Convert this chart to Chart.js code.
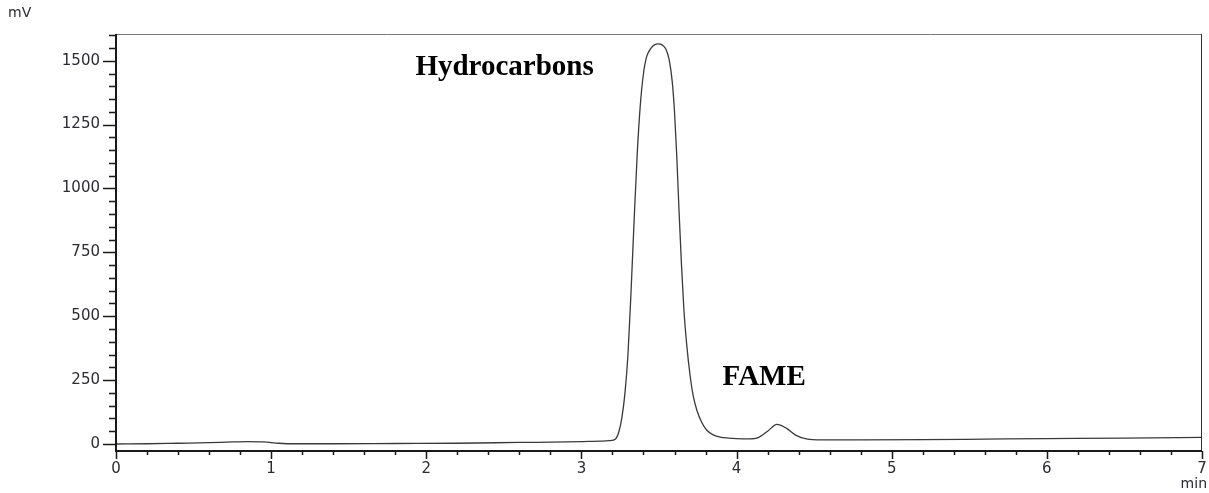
<!DOCTYPE html>
<html>
<head>
<meta charset="utf-8">
<script src="https://cdn.jsdelivr.net/npm/chart.js@4.4.1/dist/chart.umd.min.js"></script>
<style>
  html, body { margin: 0; padding: 0; background: #fff; }
  #wrap { width: 1209px; height: 493px; }
</style>
</head>
<body>
<div id="wrap"><canvas id="chromChart" width="1209" height="493"></canvas></div>
<script>
// retention time (min) and detector signal (mV)
const retentionTime = [
  0, 0.2, 0.4, 0.6, 0.75, 0.85, 0.95, 1.05, 1.15, 1.4, 1.8, 2.2, 2.6, 2.9, 3.05,
  3.12, 3.18, 3.22, 3.24, 3.26, 3.28, 3.30, 3.32, 3.34, 3.36, 3.38, 3.40, 3.42,
  3.45, 3.47, 3.497, 3.52, 3.545, 3.565, 3.585, 3.60, 3.615, 3.63, 3.645, 3.66,
  3.68, 3.70, 3.72, 3.744, 3.775, 3.808, 3.85, 3.894, 3.95, 4.0, 4.08, 4.14, 4.2,
  4.26, 4.32, 4.38, 4.45, 4.55, 4.8, 5.2, 5.6, 6.0, 6.5, 7.0
];
const signalMv = [
  0, 1, 3, 5, 8, 9, 8, 3, 1, 1, 2, 3, 6, 8, 10,
  11, 13, 20, 45, 100, 195, 350, 600, 880, 1140, 1330, 1450, 1515,
  1550, 1562, 1566, 1562, 1545, 1505, 1420, 1300, 1120, 900, 700, 530,
  380, 270, 190, 132, 85, 54, 36, 27, 23, 21, 20, 25, 50,
  77, 62, 35, 20, 16, 16, 17, 19, 21, 23, 26
];

// axis ticks
const xTicks = [0, 1, 2, 3, 4, 5, 6, 7];
const yTicks = [0, 250, 500, 750, 1000, 1250, 1500];
const xMinorStep = 0.2;
const yMinorStep = 50;

// peak annotations: text, left edge (min), baseline (mV)
const peakNames = ['Hydrocarbons', 'FAME'];
const peakNameX = [1.93, 3.91];
const peakNameY = [1444, 230];

const xUnit = 'min';
const yUnit = 'mV';

const AXIS_FONT = { family: '"DejaVu Sans", Arial, sans-serif', size: 15 };

// frame, major/minor tick marks and the text annotations
const frameAndTicks = {
  id: 'frameAndTicks',
  afterDraw(chart) {
    const { ctx, chartArea: a } = chart;
    const x = chart.scales.x, y = chart.scales.y;
    ctx.save();

    // top and right border
    ctx.lineWidth = 1;
    ctx.strokeStyle = '#7a7a7a';
    ctx.beginPath();
    ctx.moveTo(a.left, a.top + 0.5);
    ctx.lineTo(a.right, a.top + 0.5);
    ctx.stroke();
    ctx.strokeStyle = '#333';
    ctx.beginPath();
    ctx.moveTo(a.right - 0.5, a.top);
    ctx.lineTo(a.right - 0.5, a.bottom);
    ctx.stroke();

    // main axes
    ctx.lineWidth = 2;
    ctx.strokeStyle = '#1a1a1a';
    ctx.beginPath();
    ctx.moveTo(a.left, a.top);
    ctx.lineTo(a.left, a.bottom);
    ctx.lineTo(a.right, a.bottom);
    ctx.stroke();

    // y ticks (major every 250, minor every 50)
    ctx.lineWidth = 1.5;
    ctx.beginPath();
    for (let v = 0; v <= y.max; v += yMinorStep) {
      const py = Math.round(y.getPixelForValue(v)) + 0.5;
      const len = yTicks.includes(v) ? 13 : 7;
      ctx.moveTo(a.left - len, py);
      ctx.lineTo(a.left, py);
    }
    ctx.stroke();

    // x ticks (major every 1, minor every 0.2)
    ctx.beginPath();
    const nx = Math.round(x.max / xMinorStep);
    for (let i = 0; i <= nx; i++) {
      const px = Math.round(x.getPixelForValue(i * xMinorStep)) + 0.5;
      const len = i % 5 === 0 ? 8 : 4;
      ctx.moveTo(px, a.bottom);
      ctx.lineTo(px, a.bottom + len);
    }
    ctx.stroke();

    // unit labels
    ctx.fillStyle = '#2b2b33';
    ctx.font = '14px "DejaVu Sans", Arial, sans-serif';
    ctx.textBaseline = 'middle';
    ctx.textAlign = 'left';
    ctx.fillText(yUnit, 8, 13);
    ctx.textAlign = 'right';
    ctx.fillText(xUnit, 1207, 484);

    // peak names
    ctx.fillStyle = '#000';
    ctx.font = 'bold 29px "Liberation Serif", "Times New Roman", serif';
    ctx.textAlign = 'left';
    ctx.textBaseline = 'alphabetic';
    peakNames.forEach((name, i) => {
      ctx.fillText(name, x.getPixelForValue(peakNameX[i]), y.getPixelForValue(peakNameY[i]));
    });

    ctx.restore();
  }
};

const ctx = document.getElementById('chromChart').getContext('2d');
new Chart(ctx, {
  type: 'line',
  data: {
    datasets: [{
      data: retentionTime.map((t, i) => ({ x: t, y: signalMv[i] })),
      borderColor: '#3a3a3a',
      borderWidth: 1.3,
      pointRadius: 0,
      fill: false,
      cubicInterpolationMode: 'monotone'
    }]
  },
  options: {
    responsive: false,
    animation: false,
    layout: { padding: { top: 34, right: 7, bottom: 0, left: 0 } },
    plugins: {
      legend: { display: false },
      tooltip: { enabled: false }
    },
    scales: {
      x: {
        type: 'linear',
        min: 0,
        max: 7,
        afterBuildTicks: s => { s.ticks = xTicks.map(v => ({ value: v })); },
        afterFit: s => { s.height = 42; s.paddingLeft = 0; s.paddingRight = 0; },
        grid: { display: false, drawTicks: false },
        border: { display: false },
        ticks: { padding: 9, color: '#2b2b33', font: AXIS_FONT, maxRotation: 0,
                 callback: v => String(v) }
      },
      y: {
        type: 'linear',
        min: -27.4,
        max: 1604.6,
        afterBuildTicks: s => { s.ticks = yTicks.map(v => ({ value: v })); },
        afterFit: s => { s.width = 116; },
        grid: { display: false, drawTicks: false },
        border: { display: false },
        ticks: { padding: 16, color: '#2b2b33', font: AXIS_FONT,
                 callback: v => String(v) }
      }
    }
  },
  plugins: [frameAndTicks]
});
</script>
</body>
</html>
